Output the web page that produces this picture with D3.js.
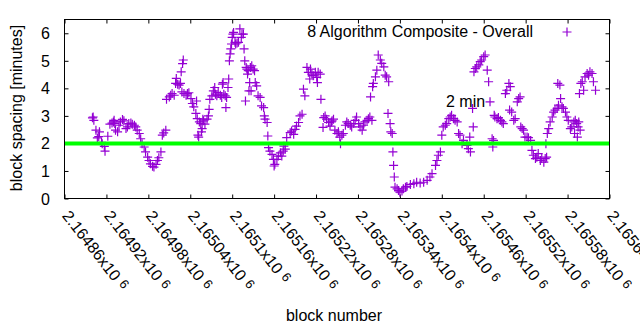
<!DOCTYPE html>
<html>
<head>
<meta charset="utf-8" />
<script src="https://d3js.org/d3.v7.min.js"></script>
<style>
    body { margin: 0; background: #fff; }
    svg { font-family: "Liberation Sans", Arial, sans-serif; font-size: 16px; }
</style>
</head>
<body>
<script>

    // block number / block spacing in minutes
    var blocks = [
        2164900, 2164902, 2164901, 2164905, 2164907, 2164909, 2164910, 2164913, 2164914, 2164917,
        2164918, 2164922, 2164925, 2164928, 2164930, 2164931, 2164932, 2164933, 2164936, 2164938,
        2164940, 2164943, 2164945, 2164948, 2164950, 2164952, 2164955, 2164957, 2164960, 2164962,
        2164964, 2164967, 2164969, 2164971, 2164974, 2164976, 2164979, 2164981, 2164983, 2164986,
        2164988, 2164991, 2164993, 2164995, 2164998, 2165000, 2165002, 2165005, 2165006, 2165010,
        2165012, 2165014, 2165017, 2165019, 2165020, 2165022, 2165024, 2165026, 2165027, 2165029,
        2165030, 2165028, 2165031, 2165034, 2165036, 2165038, 2165041, 2165043, 2165045, 2165048,
        2165050, 2165053, 2165055, 2165051, 2165052, 2165056, 2165057, 2165049, 2165058, 2165059,
        2165061, 2165064, 2165066, 2165067, 2165068, 2165071, 2165073, 2165075, 2165076, 2165078,
        2165080, 2165083, 2165085, 2165086, 2165087, 2165088, 2165090, 2165091, 2165092, 2165095,
        2165094, 2165096, 2165097, 2165098, 2165099, 2165100, 2165101, 2165102, 2165104, 2165105,
        2165107, 2165109, 2165111, 2165114, 2165116, 2165113, 2165117, 2165118, 2165120, 2165121,
        2165123, 2165126, 2165128, 2165130, 2165132, 2165122, 2165125, 2165124, 2165127, 2165133,
        2165135, 2165119, 2165137, 2165140, 2165142, 2165145, 2165146, 2165147, 2165150, 2165151,
        2165152, 2165154, 2165157, 2165159, 2165161, 2165160, 2165164, 2165166, 2165169, 2165171,
        2165173, 2165176, 2165174, 2165178, 2165183, 2165185, 2165188, 2165190, 2165192, 2165195,
        2165197, 2165200, 2165202, 2165204, 2165207, 2165209, 2165212, 2165214, 2165216, 2165219,
        2165221, 2165223, 2165226, 2165211, 2165222, 2165227, 2165231, 2165233, 2165235, 2165230,
        2165238, 2165240, 2165243, 2165245, 2165242, 2165247, 2165250, 2165252, 2165254, 2165257,
        2165259, 2165255, 2165262, 2165264, 2165266, 2165269, 2165271, 2165274, 2165276, 2165278,
        2165281, 2165283, 2165286, 2165288, 2165290, 2165293, 2165295, 2165297, 2165300, 2165298,
        2165301, 2165302, 2165305, 2165307, 2165309, 2165312, 2165314, 2165317, 2165319, 2165321,
        2165324, 2165323, 2165326, 2165327, 2165329, 2165330, 2165331, 2165332, 2165333, 2165336,
        2165338, 2165340, 2165343, 2165345, 2165348, 2165350, 2165355, 2165360, 2165364, 2165369,
        2165374, 2165379, 2165383, 2165386, 2165391, 2165393, 2165395, 2165398, 2165400, 2165402,
        2165405, 2165407, 2165410, 2165412, 2165414, 2165417, 2165419, 2165422, 2165424, 2165426,
        2165429, 2165431, 2165436, 2165438, 2165441, 2165440, 2165445, 2165444, 2165446, 2165448,
        2165450, 2165453, 2165455, 2165457, 2165460, 2165462, 2165465, 2165467, 2165469, 2165472,
        2165474, 2165473, 2165475, 2165476, 2165479, 2165481, 2165484, 2165486, 2165488, 2165491,
        2165493, 2165496, 2165498, 2165497, 2165500, 2165503, 2165505, 2165508, 2165510, 2165512,
        2165513, 2165515, 2165517, 2165519, 2165522, 2165524, 2165527, 2165529, 2165531, 2165534,
        2165536, 2165538, 2165541, 2165543, 2165546, 2165548, 2165550, 2165549, 2165551, 2165553,
        2165555, 2165558, 2165560, 2165562, 2165565, 2165567, 2165570, 2165566, 2165569, 2165572,
        2165574, 2165577, 2165579, 2165581, 2165584, 2165586, 2165589, 2165591, 2165593, 2165596,
        2165598, 2165590, 2165594, 2165595, 2165597, 2165599, 2165601, 2165603, 2165605, 2165608,
        2165610, 2165612, 2165615, 2165617, 2165620
    ];
    var spacing = [
        2.93, 2.84, 2.96, 2.48, 2.20, 2.25, 2.42, 2.04, 1.99, 1.89,
        1.72, 2.26, 2.70, 2.74, 2.78, 2.84, 2.72, 2.48, 2.42, 2.66,
        2.78, 2.87, 2.82, 2.54, 2.60, 2.72, 2.74, 2.70, 2.66, 2.60,
        2.48, 2.36, 2.17, 1.99, 1.87, 1.69, 1.50, 1.38, 1.26, 1.17,
        1.14, 1.24, 1.38, 1.48, 1.69, 2.30, 2.38, 2.48, 3.60, 3.69,
        3.75, 3.81, 3.75, 4.18, 4.36, 4.15, 4.12, 4.18, 4.60, 4.90,
        5.03, 3.87, 3.81, 3.75, 3.81, 3.84, 3.63, 3.45, 3.33, 3.09,
        2.90, 2.78, 2.72, 2.30, 2.23, 2.42, 2.54, 3.54, 2.88, 2.82,
        2.70, 2.88, 3.00, 3.24, 3.60, 3.73, 3.91, 4.03, 3.79, 3.73,
        3.85, 3.75, 3.67, 4.15, 4.21, 3.79, 3.73, 3.30, 3.67, 4.34,
        4.03, 5.00, 5.25, 5.43, 5.61, 5.85, 5.97, 6.03, 5.67, 5.61,
        5.65, 5.67, 6.16, 5.97, 5.97, 5.85, 5.43, 5.00, 4.76, 4.70,
        4.64, 4.76, 4.82, 4.70, 4.64, 4.52, 4.21, 3.91, 3.91, 4.21,
        4.09, 3.54, 3.73, 3.67, 3.36, 3.30, 3.00, 2.88, 2.76, 2.27,
        1.85, 1.72, 1.60, 1.42, 1.24, 1.18, 1.42, 1.54, 1.66, 1.54,
        1.72, 1.79, 1.90, 2.21, 2.39, 2.45, 2.33, 2.51, 2.63, 2.76,
        3.00, 3.06, 3.97, 3.73, 4.76, 4.58, 4.70, 4.52, 4.46, 4.58,
        4.40, 4.58, 4.52, 4.34, 4.21, 3.60, 2.94, 3.00, 2.88, 2.58,
        2.76, 2.63, 2.82, 2.88, 2.78, 2.48, 2.36, 2.42, 2.23, 2.30,
        2.36, 1.99, 2.66, 2.78, 2.72, 2.66, 2.60, 2.72, 2.84, 2.96,
        2.72, 2.60, 2.48, 2.66, 2.78, 2.84, 2.90, 2.96, 2.84, 3.69,
        4.06, 4.18, 4.42, 4.66, 5.21, 5.03, 4.91, 4.78, 4.48, 4.42,
        4.24, 3.09, 2.72, 2.42, 2.36, 1.69, 1.20, 0.78, 0.41, 0.35,
        0.29, 0.23, 0.27, 0.35, 0.41, 0.44, 0.51, 0.54, 0.59, 0.56,
        0.59, 0.66, 0.78, 0.90, 1.20, 1.38, 1.57, 1.69, 2.30, 2.60,
        2.66, 2.72, 2.90, 2.96, 3.02, 2.90, 2.84, 2.78, 2.36, 2.30,
        1.99, 2.11, 1.93, 1.81, 1.69, 2.23, 2.60, 3.27, 4.60, 4.72,
        4.78, 4.85, 4.97, 5.03, 5.15, 5.21, 4.66, 4.24, 3.51, 2.17,
        2.11, 1.87, 3.02, 2.96, 2.90, 2.94, 2.84, 2.78, 2.72, 3.81,
        3.93, 4.18, 4.06, 3.21, 3.14, 2.84, 2.90, 3.51, 3.63, 3.69,
        2.60, 2.54, 2.48, 2.23, 2.23, 2.21, 2.11, 1.75, 1.57, 1.45,
        1.50, 1.63, 1.38, 1.45, 1.32, 1.45, 1.50, 1.99, 2.36, 2.54,
        2.78, 2.96, 3.14, 3.21, 3.27, 3.39, 3.63, 4.18, 4.12, 3.33,
        3.27, 3.14, 2.96, 2.84, 2.54, 2.60, 2.78, 2.84, 2.72, 2.78,
        2.48, 2.36, 2.23, 2.60, 3.81, 4.18, 4.24, 3.93, 4.42, 4.54,
        4.48, 4.60, 4.54, 4.24, 3.93
    ];

    var yTicks = [0, 1, 2, 3, 4, 5, 6];
    var xTicks = [2164860, 2164920, 2164980, 2165040, 2165100, 2165160, 2165220,
                  2165280, 2165340, 2165400, 2165460, 2165520, 2165580, 2165640];
    var xTickLabels = ["2.16486", "2.16492", "2.16498", "2.16504", "2.1651", "2.16516", "2.16522",
                       "2.16528", "2.16534", "2.1654", "2.16546", "2.16552", "2.16558", "2.16564"];
    var targetSpacing = 2;

    var width = 640,
        height = 330,
        plotLeft = 64.5,
        plotRight = 609.5,
        plotTop = 19.5,
        plotBottom = 198.5;

    var svg = d3.select("body").append("svg")
        .attr("width", width)
        .attr("height", height);

    var x = d3.scaleLinear().domain([2164860, 2165640]).range([plotLeft, plotRight]);
    var y = d3.scaleLinear().domain([0, 6.5]).range([plotBottom, plotTop]);

    // ticks (inward, mirrored like gnuplot)
    svg.append("g").attr("transform", "translate(0," + plotBottom + ")")
        .call(d3.axisBottom(x).tickValues(xTicks).tickSizeInner(-4).tickSizeOuter(0).tickFormat(""));
    svg.append("g").attr("transform", "translate(0," + plotTop + ")")
        .call(d3.axisTop(x).tickValues(xTicks).tickSizeInner(-4).tickSizeOuter(0).tickFormat(""));
    svg.append("g").attr("transform", "translate(" + plotLeft + ",0)")
        .call(d3.axisLeft(y).tickValues(yTicks).tickSizeInner(-4).tickSizeOuter(0).tickFormat(""));
    svg.append("g").attr("transform", "translate(" + plotRight + ",0)")
        .call(d3.axisRight(y).tickValues(yTicks).tickSizeInner(-4).tickSizeOuter(0).tickFormat(""));
    svg.selectAll(".domain").remove();
    svg.selectAll(".tick line").attr("stroke", "#000");

    // y tick labels
    svg.selectAll(".ylab").data(yTicks).enter().append("text")
        .attr("x", 50)
        .attr("y", function (d) { return y(d) + 6; })
        .attr("text-anchor", "end")
        .attr("fill", "#000")
        .text(function (d) { return d; });

    // x tick labels, rotated
    var xl = svg.selectAll(".xlab").data(xTicks).enter().append("text")
        .attr("transform", function (d) { return "translate(" + (x(d) - 3) + ",216) rotate(52)"; })
        .attr("fill", "#000");
    xl.append("tspan").text(function (d, i) { return xTickLabels[i] + "x10"; });
    xl.append("tspan").attr("dx", 5).attr("dy", -3).style("font-size", "13px").text("6");

    // points
    var plus = "M-4.5,0H4.5M0,-4.5V4.5";
    svg.append("g").selectAll("path").data(blocks).enter().append("path")
        .attr("d", plus)
        .attr("transform", function (d, i) { return "translate(" + x(d) + "," + y(spacing[i]) + ")"; })
        .attr("fill", "none")
        .attr("stroke", "#9400d3")
        .attr("stroke-width", 1.2);

    // 2 minute line
    svg.append("line")
        .attr("x1", plotLeft).attr("x2", plotRight)
        .attr("y1", y(targetSpacing)).attr("y2", y(targetSpacing))
        .attr("stroke", "#00ff00")
        .attr("stroke-width", 4);

    // border
    svg.append("rect")
        .attr("x", plotLeft).attr("y", plotTop)
        .attr("width", plotRight - plotLeft).attr("height", plotBottom - plotTop)
        .attr("fill", "none").attr("stroke", "#000");

    // legend
    svg.append("text").attr("x", 533).attr("y", 37).attr("text-anchor", "end")
        .text("8 Algorithm Composite - Overall");
    svg.append("path").attr("d", plus).attr("transform", "translate(567,32)")
        .attr("fill", "none").attr("stroke", "#9400d3").attr("stroke-width", 1.2);

    svg.append("text").attr("x", 446).attr("y", 107).text("2 min");

    // axis titles
    svg.append("text").attr("x", 334).attr("y", 321).attr("text-anchor", "middle")
        .text("block number");
    svg.append("text").attr("transform", "translate(22,108) rotate(-90)")
        .attr("text-anchor", "middle")
        .text("block spacing [minutes]");

</script>
</body>
</html>
